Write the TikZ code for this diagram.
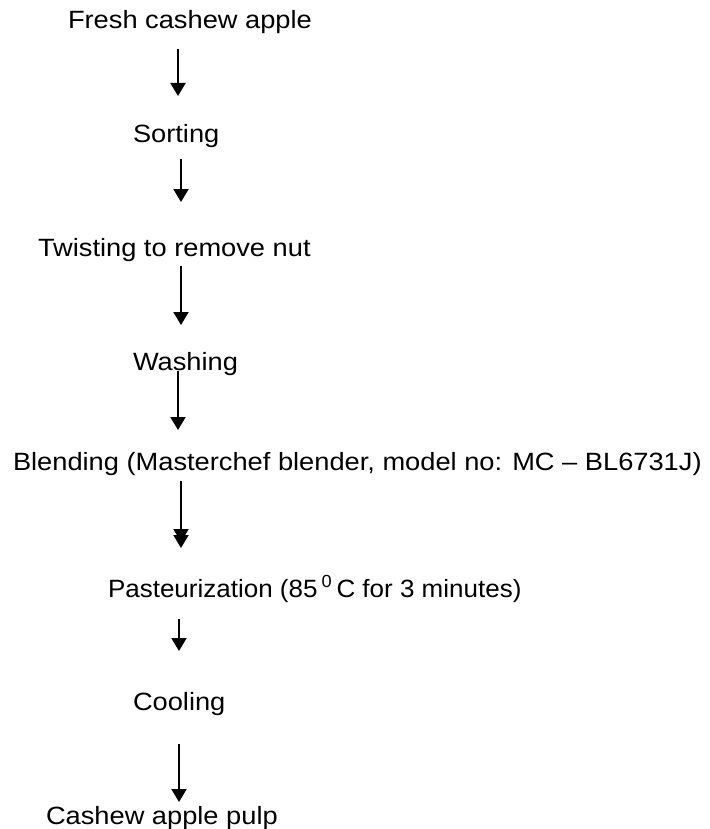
\documentclass[tikz,border=0pt]{standalone}
\usepackage{fontspec}
\setmainfont{Liberation Sans}[FakeStretch=1.09]
\usetikzlibrary{arrows.meta, positioning, calc}

\begin{document}
\begin{tikzpicture}
            [x=1pt, y=-1pt, line width=2pt,
            flow/.style={-{Triangle[width=15pt, length=13pt]}},
            flowtwice/.style={-{Triangle[width=15pt, length=13pt, sep=-7pt] Triangle[width=15pt, length=13pt]}},
            stage/.style={anchor=base west, inner sep=0pt, text height=18pt, text depth=5pt, font=\fontsize{25}{30}\selectfont}]
            \useasboundingbox (0,0) rectangle (709,829);

            \node[stage]  (fresh)  at (67,29)   {Fresh cashew apple};
            \node[stage]  (sort)   at (132,143) {Sorting};
            \node[stage]  (twist)  at (37,256)  {Twisting to remove nut};
            \node[stage]  (wash)   at (132,370) {Washing};
            \node[stage]  (blend)  at (12,470)
            {Blending (Masterchef blender, model no: MC -- BL6731J)};
            \node[stage, font=\fontsize{25}{30}\selectfont\addfontfeature{FakeStretch=1.04}]  (past)   at (107,597)
            {Pasteurization (85\,\textsuperscript{0}\,C for 3 minutes)};
            \node[stage]  (cool)   at (132,710) {Cooling};
            \node[stage]  (pulp)   at (45,824)  {Cashew apple pulp};

            % process steps, top to bottom
            \path (fresh.south -| 178,0) edge [flow, shorten <=14pt, shorten >=28pt]      (sort.north -| 178,0)
                  (sort.south -| 181,0)  edge [flow, shorten <=10pt, shorten >=35pt]      (twist.north -| 181,0)
                  (twist.south -| 181,0) edge [flow, shorten <=4pt, shorten >=26pt]       (wash.north -| 181,0)
                  (wash.south -| 178,0)  edge [flow, shorten <=-5pt, shorten >=21pt]      (blend.north -| 178,0)
                  (blend.south -| 181,0) edge [flowtwice, shorten <=5pt, shorten >=30pt]  (past.north -| 181,0)
                  (past.south -| 179,0)  edge [flow, shorten <=16pt, shorten >=40pt]      (cool.north -| 179,0)
                  (cool.south -| 179,0)  edge [flow, shorten <=28pt, shorten >=3pt]       (pulp.north -| 179,0);
        \end{tikzpicture}
\end{document}
